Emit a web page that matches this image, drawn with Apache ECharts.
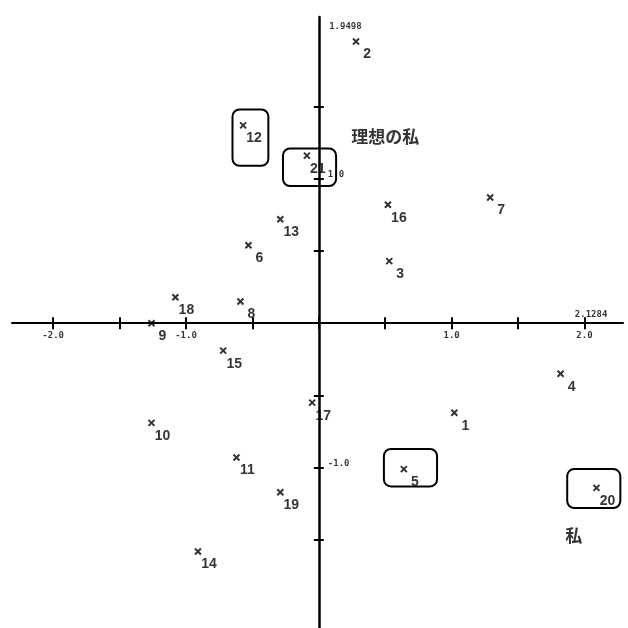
<!DOCTYPE html>
<html>
<head>
<meta charset="utf-8">
<script src="https://cdn.jsdelivr.net/npm/echarts@6/dist/echarts.min.js"></script>
<style>
  html, body { margin: 0; padding: 0; background: #fff; }
  #chart { width: 628px; height: 628px; }
</style>
</head>
<body>
<div id="chart"></div>
<script>
// point ids and coordinates
const pointIds = [1, 2, 3, 4, 5, 6, 7, 8, 9, 10, 11, 12, 13, 14, 15, 16, 17, 18, 19, 20, 21]
const pointX = [1.02, 0.28, 0.53, 1.82, 0.64, -0.53, 1.29, -0.59, -1.26, -1.26, -0.62, -0.57, -0.29, -0.91, -0.72, 0.52, -0.05, -1.08, -0.29, 2.09, -0.09]
const pointY = [-0.62, 1.95, 0.43, -0.35, -1.01, 0.54, 0.87, 0.15, 0.0, -0.69, -0.93, 1.37, 0.72, -1.58, -0.19, 0.82, -0.55, 0.18, -1.17, -1.14, 1.16]

// ticks every 0.5, labels only at whole values
const xTicks = [-2, -1.5, -1, -0.5, 0, 0.5, 1, 1.5, 2]
const xTickLabels = [-2, -1, 1, 2]
const yTicks = [-1.5, -1, -0.5, 0, 0.5, 1, 1.5]
const yTickLabels = [-1, 1]

// rounded boxes drawn round chosen points: [x1, y1, x2, y2]
const boxes = [
  [-0.65, 1.48, -0.38, 1.09],
  [-0.27, 1.21, 0.13, 0.95],
  [0.49, -0.87, 0.89, -1.13],
  [1.87, -1.01, 2.27, -1.28],
]

// text notes: [x, y, text]
const notes = [
  [0.50, 1.29, '理想の私'],
  [1.92, -1.47, '私'],
]
const maxNotes = [
  [0.20, 2.05, '1.9498'],
  [2.05, 0.06, '2.1284'],
]

const xMin = -2.31, xMax = 2.29
const yMin = -2.11, yMax = 2.12

const chart = echarts.init(document.getElementById('chart'))

const axisFont = { fontFamily: 'DejaVu Sans Mono', fontWeight: 'bold', fontSize: 9, color: '#000' }
const lineStyle = { color: '#000', width: 2 }

chart.setOption({
  animation: false,
  backgroundColor: '#fff',
  grid: { left: 12, right: 5, top: 17, bottom: 0, containLabel: false, outerBoundsMode: 'none' },
  xAxis: [
    {
      type: 'value', min: xMin, max: xMax, position: 'bottom',
      axisLine: { onZero: true, lineStyle },
      axisTick: { customValues: xTicks, length: 6, lineStyle },
      axisLabel: { show: false },
      splitLine: { show: false },
    },
    {
      type: 'value', min: xMin, max: xMax, position: 'top',
      axisLine: { onZero: true, show: false },
      axisTick: { customValues: xTicks, length: 6, lineStyle },
      axisLabel: { show: false },
      splitLine: { show: false },
    },
  ],
  yAxis: [
    {
      type: 'value', min: yMin, max: yMax, position: 'left',
      axisLine: { onZero: true, lineStyle: { color: '#000', width: 2.5 } },
      axisTick: { customValues: yTicks, length: 5, lineStyle },
      axisLabel: { show: false },
      splitLine: { show: false },
    },
    {
      type: 'value', min: yMin, max: yMax, position: 'right',
      axisLine: { onZero: true, show: false },
      axisTick: { customValues: yTicks, length: 5, lineStyle },
      axisLabel: { show: false },
      splitLine: { show: false },
    },
  ],
  series: [
    {
      type: 'scatter',
      xAxisIndex: 0, yAxisIndex: 0,
      symbol: 'path://M0,0L10,10M10,0L0,10',
      symbolSize: 6,
      itemStyle: { color: 'rgba(0,0,0,0)', borderColor: '#000', borderWidth: 2 },
      label: {
        show: true, position: 'inside', offset: [11, 13],
        formatter: (p) => String(p.value[2]),
        fontFamily: 'Liberation Sans', fontWeight: 'bold', fontSize: 14, color: '#000',
      },
      data: pointIds.map((id, i) => [pointX[i], pointY[i], id]),
    },
    {
      type: 'custom',
      xAxisIndex: 0, yAxisIndex: 0,
      renderItem: (params, api) => {
        const a = api.coord([api.value(0), api.value(1)])
        const b = api.coord([api.value(2), api.value(3)])
        return {
          type: 'rect',
          shape: { x: a[0], y: a[1], width: b[0] - a[0], height: b[1] - a[1], r: 7 },
          style: { fill: 'none', stroke: '#000', lineWidth: 2 },
        }
      },
      data: boxes,
      silent: true,
    },
    {
      // x tick labels, sitting under the axis line
      type: 'scatter',
      xAxisIndex: 0, yAxisIndex: 0,
      symbolSize: 0,
      label: {
        show: true, position: 'bottom', distance: 8,
        formatter: (p) => p.value[0].toFixed(1),
        ...axisFont,
      },
      data: xTickLabels.map((v) => [v, 0]),
      silent: true,
    },
    {
      // y tick labels, right of the axis line
      type: 'scatter',
      xAxisIndex: 0, yAxisIndex: 0,
      symbolSize: 0,
      label: {
        show: true, position: 'right', distance: 9, offset: [0, -4],
        formatter: (p) => p.value[1].toFixed(1),
        ...axisFont,
      },
      data: yTickLabels.map((v) => [0, v]),
      silent: true,
    },
    {
      type: 'scatter',
      xAxisIndex: 0, yAxisIndex: 0,
      symbolSize: 0,
      label: {
        show: true, position: 'inside',
        formatter: (p) => p.value[2],
        fontFamily: 'Noto Sans CJK JP', fontWeight: 'bold', fontSize: 17, color: '#000',
      },
      data: notes,
      silent: true,
    },
    {
      type: 'scatter',
      xAxisIndex: 0, yAxisIndex: 0,
      symbolSize: 0,
      label: {
        show: true, position: 'inside',
        formatter: (p) => p.value[2],
        ...axisFont,
      },
      data: maxNotes,
      silent: true,
    },
  ],
})
</script>
</body>
</html>
